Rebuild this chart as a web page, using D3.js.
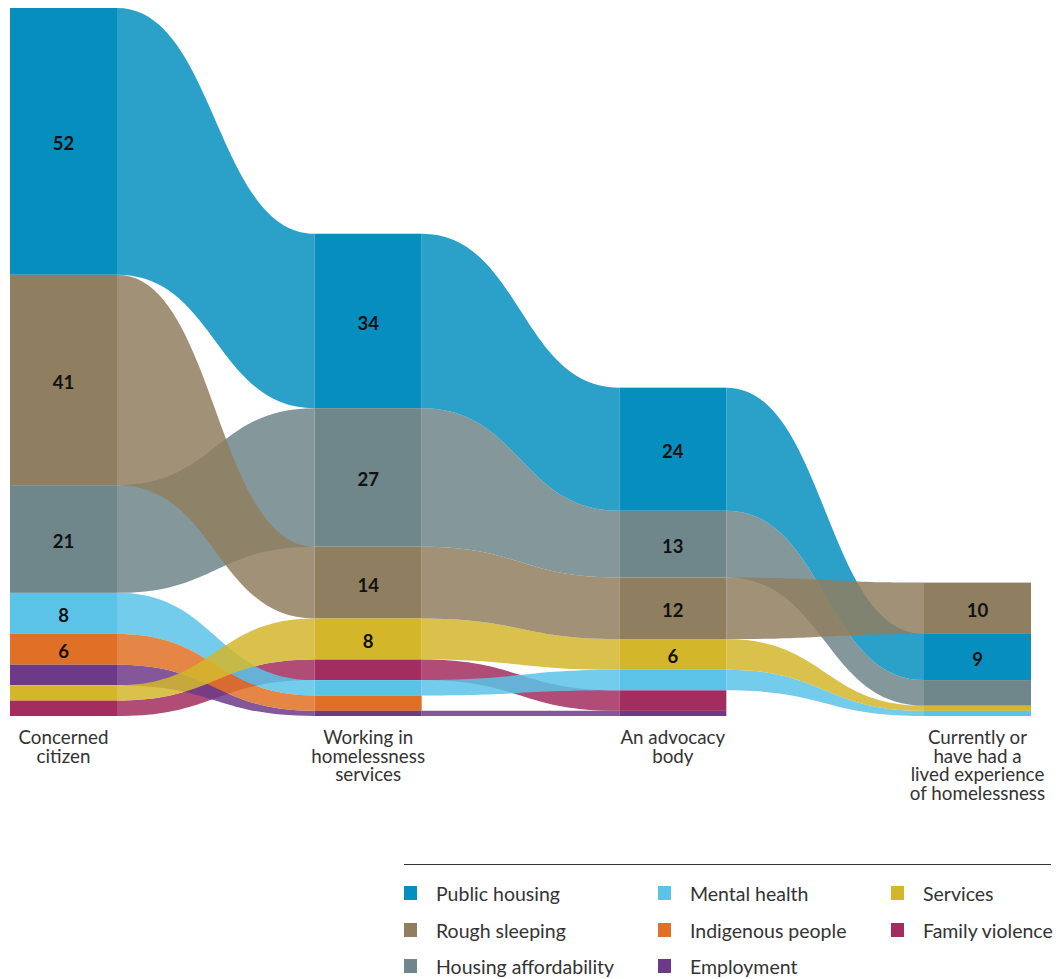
<!DOCTYPE html>
<html>
<head>
<meta charset="utf-8">
<script src="https://cdn.jsdelivr.net/npm/d3@7"></script>
<style>
  html, body { margin: 0; padding: 0; background: #fff; }
  svg { display: block; }
</style>
</head>
<body>
<svg id="chart" width="1062" height="979"></svg>
<script>
// ---- Data ----
const categories = ["Public housing", "Rough sleeping", "Housing affordability", "Mental health",
                    "Indigenous people", "Employment", "Services", "Family violence"];
const groups = [["Concerned", "citizen"],
                ["Working in", "homelessness", "services"],
                ["An advocacy", "body"],
                ["Currently or", "have had a", "lived experience", "of homelessness"]];
// values per group, in category order
const concernedCitizen   = [52, 41, 21, 8, 6, 4, 3, 3];
const workingInServices  = [34, 14, 27, 3, 3, 1, 8, 4];
const advocacyBody       = [24, 12, 13, 4, 0, 1, 6, 4];
const livedExperience    = [ 9, 10,  5, 1, 0, 0, 1, 0];
const seriesByGroup = [concernedCitizen, workingInServices, advocacyBody, livedExperience];
// tie-break priority when two values in a column are equal
const tieOrder = ["Public housing", "Rough sleeping", "Housing affordability", "Services",
                  "Mental health", "Indigenous people", "Employment", "Family violence"];
// ribbon paint order (later = on top)
const drawOrder = ["Family violence", "Employment", "Mental health", "Indigenous people",
                   "Services", "Housing affordability", "Public housing", "Rough sleeping"];
const colors = ["#068fbe", "#8f7e5f", "#6f868b", "#5bc3e8", "#e07026", "#6d3a87", "#d4b62b", "#a22d5e"];
const labelMin = 6;

// ---- Layout ----
const svg = d3.select("#chart");
const barW = 107;
const x = d3.scaleLinear().domain([0, groups.length - 1]).range([10, 924]);
const totals = seriesByGroup.map(s => d3.sum(s));
const y = d3.scaleLinear().domain([0, d3.max(totals)]).range([716, 8]);
const color = d3.scaleOrdinal().domain(categories).range(colors);

// stack each column: sorted descending from top, bottom aligned
const stacks = seriesByGroup.map((vals, gi) => {
  const items = categories.map((c, ci) => ({cat: c, value: vals[ci]})).filter(d => d.value > 0);
  items.sort((a, b) => (b.value - a.value) || (tieOrder.indexOf(a.cat) - tieOrder.indexOf(b.cat)));
  let cum = totals[gi];
  const map = {};
  items.forEach(d => {
    d.top = cum; d.bottom = cum - d.value; cum -= d.value;
    d.group = gi;
    map[d.cat] = d;
  });
  return {items, map};
});

// ---- Ribbons ----
const ribbons = [];
for (let gi = 0; gi < groups.length - 1; gi++) {
  drawOrder.forEach(cat => {
    const a = stacks[gi].map[cat], b = stacks[gi + 1].map[cat];
    if (a && b) ribbons.push({cat, a, b, gi});
  });
}
function ribbonPath(r) {
  const x0 = x(r.gi) + barW, x1 = x(r.gi + 1), xm = (x0 + x1) / 2;
  const p = d3.path();
  p.moveTo(x0, y(r.a.top));
  p.bezierCurveTo(xm, y(r.a.top), xm, y(r.b.top), x1, y(r.b.top));
  p.lineTo(x1, y(r.b.bottom));
  p.bezierCurveTo(xm, y(r.b.bottom), xm, y(r.a.bottom), x0, y(r.a.bottom));
  p.closePath();
  return p.toString();
}
svg.append("g").selectAll("path").data(ribbons).join("path")
  .attr("d", ribbonPath)
  .attr("fill", d => color(d.cat))
  .attr("fill-opacity", 0.85);

// ---- Bars ----
const allItems = stacks.flatMap(s => s.items);
svg.append("g").selectAll("rect").data(allItems).join("rect")
  .attr("x", d => x(d.group))
  .attr("width", barW)
  .attr("y", d => y(d.top))
  .attr("height", d => y(d.bottom) - y(d.top))
  .attr("fill", d => color(d.cat));

// ---- Value labels ----
svg.append("g").selectAll("text").data(allItems.filter(d => d.value >= labelMin)).join("text")
  .attr("x", d => x(d.group) + barW / 2)
  .attr("y", d => (y(d.top) + y(d.bottom)) / 2 + 2)
  .attr("text-anchor", "middle")
  .attr("dominant-baseline", "central")
  .style("font-family", "Lato, 'Open Sans', sans-serif")
  .style("font-weight", "700")
  .style("font-size", "18.5px")
  .attr("fill", "#111")
  .text(d => d.value);

// ---- Group labels ----
const gl = svg.append("g").selectAll("text").data(groups).join("text")
  .attr("text-anchor", "middle")
  .attr("x", (d, i) => x(i) + barW / 2)
  .attr("y", 744)
  .style("font-family", "Lato, 'Open Sans', sans-serif")
  .style("font-size", "18.8px")
  .attr("fill", "#333");
gl.selectAll("tspan").data(d => d).join("tspan")
  .attr("x", function() { return d3.select(this.parentNode).attr("x"); })
  .attr("dy", (d, i) => i === 0 ? 0 : 18.6)
  .text(d => d);

// ---- Legend ----
const legend = svg.append("g");
legend.append("line").attr("x1", 404).attr("x2", 1051).attr("y1", 864.5).attr("y2", 864.5)
  .attr("stroke", "#333").attr("stroke-width", 1);
const legCols = [404, 658, 891], legRows = [893, 930, 966];
const li = legend.selectAll("g").data(categories).join("g")
  .attr("transform", (d, i) => `translate(${legCols[Math.floor(i / 3)]},${legRows[i % 3]})`);
li.append("rect").attr("x", 0).attr("y", -7).attr("width", 13).attr("height", 14)
  .attr("fill", d => color(d));
li.append("text").attr("x", 32).attr("y", 0).attr("dominant-baseline", "central")
  .style("font-family", "Lato, 'Open Sans', sans-serif")
  .style("font-size", "19.5px")
  .attr("fill", "#333")
  .text(d => d);
</script>
</body>
</html>
